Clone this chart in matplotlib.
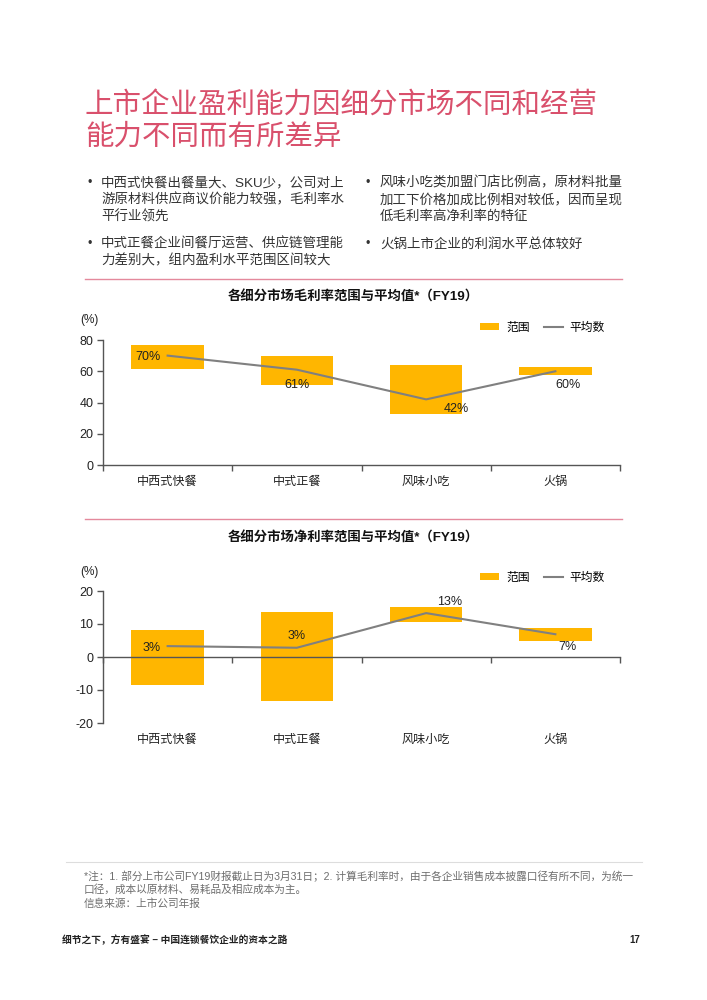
import matplotlib
matplotlib.use('Agg')
import matplotlib.pyplot as plt
from matplotlib.lines import Line2D
import matplotlib.transforms as mtransforms

plt.rcParams['font.family'] = ['Liberation Sans', 'Noto Sans CJK SC', 'DejaVu Sans']
plt.rcParams['axes.unicode_minus'] = False

# data
categories = ['中西式快餐', '中式正餐', '风味小吃', '火锅']

gross_low = [61.5, 51.5, 32.5, 57.5]
gross_high = [76.5, 69.5, 64.0, 63.0]
gross_avg = [70, 61, 42, 60]
gross_labels = ['70%', '61%', '42%', '60%']

net_low = [-8.6, -13.2, 10.7, 4.8]
net_high = [8.3, 13.7, 15.3, 8.9]
net_avg = [3.3, 2.8, 13.3, 6.9]
net_labels = ['3%', '3%', '13%', '7%']

# colors
PINK = '#D9506C'
PINK_LINE = '#E4899C'
YELLOW = '#FFB600'
GREY_LINE = '#808080'
AXIS = '#555555'

W, H = 707, 1000
fig = plt.figure(figsize=(7.07, 10), dpi=100)


def fx(x):
    return x / W


def fy(y):
    return 1 - y / H


def ftext(x, y, s, **kw):
    fig.text(fx(x), fy(y), s, **kw)


# page title
ftext(85, 105, '上市企业盈利能力因细分市场不同和经营', fontsize=20.5, color=PINK, va='center')
ftext(85, 137, '能力不同而有所差异', fontsize=20.5, color=PINK, va='center')

# bullets
left_bullets = [
    ['中西式快餐出餐量大、SKU少，公司对上', '游原材料供应商议价能力较强，毛利率水', '平行业领先'],
    ['中式正餐企业间餐厅运营、供应链管理能', '力差别大，组内盈利水平范围区间较大'],
]
right_bullets = [
    ['风味小吃类加盟门店比例高，原材料批量', '加工下价格加成比例相对较低，因而呈现', '低毛利率高净利率的特征'],
    ['火锅上市企业的利润水平总体较好'],
]
bullet_y = [183, 244]
for col_x, bx, items in [(101, 88, left_bullets), (380, 366, right_bullets)]:
    for y0, lines in zip(bullet_y, items):
        ftext(bx, y0, '•', fontsize=9, color='#333333', va='center')
        for i, line in enumerate(lines):
            ftext(col_x, y0 + i * 17, line, fontsize=9.7, color='#333333', va='center')

# separators
for y in [279, 519]:
    fig.add_artist(Line2D([fx(85), fx(622)], [fy(y), fy(y)], color=PINK_LINE, lw=1))
fig.add_artist(Line2D([fx(66), fx(642)], [fy(862), fy(862)], color='#DDDDDD', lw=0.8))


def draw_chart(ax, low, high, avg, labels, label_off, ylim, yticks, zero_axis, cat_y):
    x = list(range(len(categories)))
    heights = [h - l for l, h in zip(low, high)]
    bars = ax.bar(x, heights, bottom=low, width=0.56, color=YELLOW, zorder=2, label='范围')
    line, = ax.plot(x, avg, color=GREY_LINE, lw=1.5, zorder=3, label='平均数')
    for xi, lab, (dx, ly) in zip(x, labels, label_off):
        ax.text(xi + dx, ly, lab, fontsize=9, ha='center', va='center', color='#222222', zorder=4)
    ax.set_xlim(-0.5, len(categories) - 0.5)
    ax.set_ylim(*ylim)
    ax.set_yticks(yticks)
    ax.tick_params(axis='y', labelsize=9, length=4, width=1, color=AXIS, pad=3, labelcolor='#222222')
    for s in ['top', 'right']:
        ax.spines[s].set_visible(False)
    for s in ['left', 'bottom']:
        ax.spines[s].set_color(AXIS)
        ax.spines[s].set_linewidth(1)
    ax.set_xticks([i - 0.5 for i in range(len(categories) + 1)])
    ax.set_xticklabels([])
    ax.tick_params(axis='x', length=4, width=1, color=AXIS, direction='out')
    if zero_axis:
        ax.spines['bottom'].set_position(('data', 0))
    trans = mtransforms.blended_transform_factory(ax.transData, ax.transAxes)
    for xi, c in zip(x, categories):
        ax.text(xi, cat_y, c, transform=trans, fontsize=8.7, ha='center', va='top', color='#222222')
    ax.set_facecolor('none')
    ax.legend(handles=[bars, line], loc='center right', bbox_to_anchor=(0.98, 1.1), ncol=2,
              frameon=False, fontsize=8.5, handlelength=1.6, handleheight=0.5,
              columnspacing=1.2, handletextpad=0.6, borderaxespad=0)


# chart 1 - gross margin
ftext(353, 297, '各细分市场毛利率范围与平均值*（FY19）', fontsize=9.6, fontweight='bold',
      ha='center', va='center', color='#111111')
ftext(80, 320, '(%)', fontsize=8.5, va='center', color='#222222')
ax1 = fig.add_axes([fx(103), fy(465), fx(620) - fx(103), fy(340) - fy(465)])
draw_chart(ax1, gross_low, gross_high, gross_avg, gross_labels,
           [(-0.15, 69), (0, 51.5), (0.23, 36), (0.1, 51)],
           (0, 80), [0, 20, 40, 60, 80], False, -0.09)

# chart 2 - net margin
ftext(353, 538, '各细分市场净利率范围与平均值*（FY19）', fontsize=9.6, fontweight='bold',
      ha='center', va='center', color='#111111')
ftext(80, 572, '(%)', fontsize=8.5, va='center', color='#222222')
ax2 = fig.add_axes([fx(103), fy(723), fx(620) - fx(103), fy(591) - fy(723)])
draw_chart(ax2, net_low, net_high, net_avg, net_labels,
           [(-0.12, 2.7), (0, 6.5), (0.18, 16.7), (0.09, 2.9)],
           (-20, 20), [-20, -10, 0, 10, 20], True, -0.08)

# notes
note_kw = dict(fontsize=7.7, color='#6E6E6E', va='center')
ftext(84, 876, '*注：1. 部分上市公司FY19财报截止日为3月31日；2. 计算毛利率时，由于各企业销售成本披露口径有所不同，为统一', **note_kw)
ftext(84, 890, '口径，成本以原材料、易耗品及相应成本为主。', **note_kw)
ftext(84, 904, '信息来源：上市公司年报', **note_kw)

# footer
ftext(62, 940, '细节之下，方有盛宴 – 中国连锁餐饮企业的资本之路', fontsize=7, fontweight='bold',
      color='#222222', va='center')
ftext(640, 940, '17', fontsize=7, fontweight='bold', color='#222222', va='center', ha='right')

fig.savefig('out.png', dpi=100)
